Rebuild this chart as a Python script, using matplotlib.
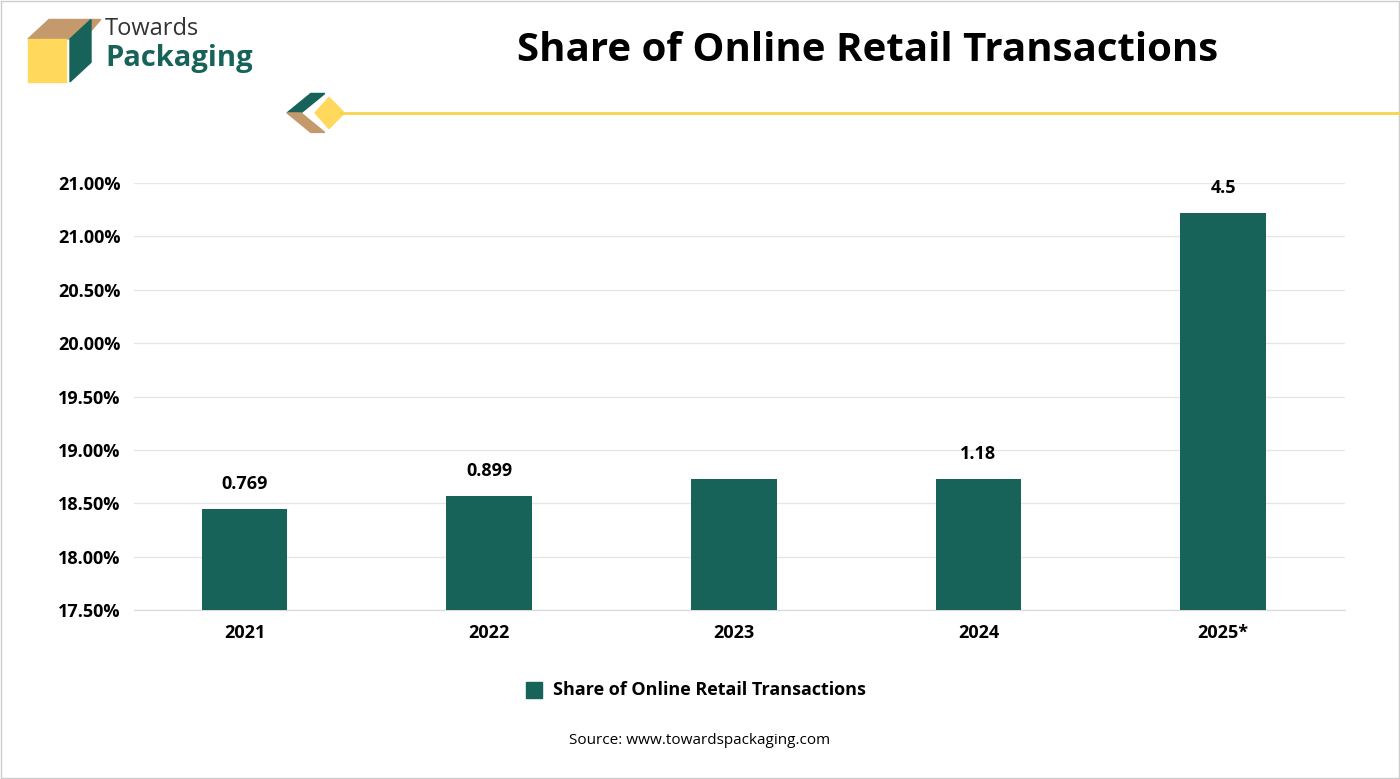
import matplotlib
matplotlib.use('Agg')
import matplotlib.pyplot as plt
import matplotlib.patches as patches

years = ['2021', '2022', '2023', '2024', '2025*']
heights = [18.45, 18.57, 18.73, 18.73, 21.22]
value_labels = ['0.769', '0.899', '', '1.18', '4.5']
tick_pos = [17.5, 18.0, 18.5, 19.0, 19.5, 20.0, 20.5, 21.0, 21.5]
tick_labels = ['17.50%', '18.00%', '18.50%', '19.00%', '19.50%', '20.00%', '20.50%', '21.00%', '21.00%']

green = '#17635A'
plt.rcParams['font.family'] = ['Open Sans', 'DejaVu Sans']

fig = plt.figure(figsize=(14, 7.79), dpi=100)
ax = fig.add_axes([0.096, 0.217, 0.865, 0.548])

x = range(len(years))
ax.bar(x, heights, width=0.35, bottom=0, color=green, zorder=3)
for i, (h, lab) in enumerate(zip(heights, value_labels)):
    if lab:
        ax.text(i, h + 0.15, lab, ha='center', va='bottom', fontsize=13, fontweight='bold')

ax.set_ylim(17.5, 21.5)
ax.set_xlim(-0.45, 4.5)
ax.set_yticks(tick_pos)
ax.set_yticklabels(tick_labels, fontsize=13, fontweight='bold')
ax.set_xticks(list(x))
ax.set_xticklabels(years, fontsize=13, fontweight='bold')
ax.grid(axis='y', color='#e6e6e6', linewidth=1, zorder=0)
for s in ['top', 'right', 'left']:
    ax.spines[s].set_visible(False)
ax.spines['bottom'].set_color('#d9d9d9')
ax.tick_params(length=0, pad=10)

# title and header
fig.text(0.62, 0.935, 'Share of Online Retail Transactions', ha='center', va='center',
         fontsize=29, fontweight='bold')
fig.add_artist(plt.Line2D([0.243, 1.0], [0.855, 0.855], color='#F5D54B', linewidth=2))
fig.add_artist(patches.Polygon([[0.205, 0.855], [0.222, 0.88], [0.232, 0.88], [0.215, 0.855]],
                               closed=True, color=green, transform=fig.transFigure))
fig.add_artist(patches.Polygon([[0.205, 0.855], [0.222, 0.83], [0.232, 0.83], [0.215, 0.855]],
                               closed=True, color='#C49A6C', transform=fig.transFigure))
fig.add_artist(patches.Polygon([[0.225, 0.855], [0.235, 0.875], [0.246, 0.855], [0.235, 0.835]],
                               closed=True, color='#FFD85C', transform=fig.transFigure))

# logo
fig.add_artist(patches.Polygon([[0.02, 0.95], [0.035, 0.975], [0.072, 0.975], [0.06, 0.95]],
                               closed=True, color='#C49A6C', transform=fig.transFigure))
fig.add_artist(patches.Rectangle((0.02, 0.895), 0.027, 0.055, color='#FFD85C', transform=fig.transFigure))
fig.add_artist(patches.Polygon([[0.05, 0.895], [0.05, 0.95], [0.065, 0.975], [0.065, 0.92]],
                               closed=True, color=green, transform=fig.transFigure))
fig.text(0.075, 0.963, 'Towards', fontsize=17, color='#333333', va='center')
fig.text(0.075, 0.925, 'Packaging', fontsize=21, fontweight='bold', color=green, va='center')

# legend
fig.add_artist(patches.Rectangle((0.376, 0.104), 0.011, 0.02, color=green, transform=fig.transFigure))
fig.text(0.395, 0.114, 'Share of Online Retail Transactions', fontsize=13, fontweight='bold', va='center')

fig.text(0.5, 0.049, 'Source: www.towardspackaging.com', ha='center', va='center', fontsize=11)

fig.add_artist(patches.Rectangle((0.0005, 0.0007), 0.999, 0.998, fill=False, edgecolor='#cccccc',
                                 linewidth=1, transform=fig.transFigure))

fig.savefig('out.png', dpi=100)
